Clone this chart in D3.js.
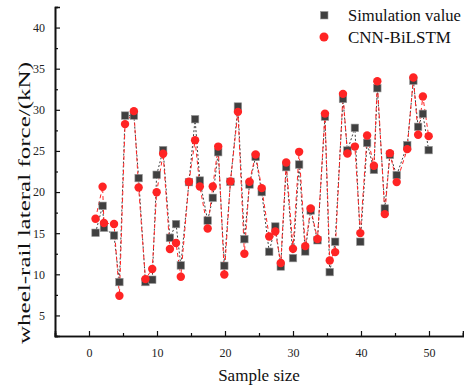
<!DOCTYPE html>
<html>
<head>
<meta charset="utf-8">
<script src="https://cdn.jsdelivr.net/npm/d3@7/dist/d3.min.js"></script>
<style>
html,body{margin:0;padding:0;background:#fff;}
svg{display:block;}
svg text{font-family:"Liberation Serif","Times New Roman",serif !important;fill:#111;}
</style>
</head>
<body>
<svg id="chart" width="464" height="390"></svg>
<script>
// Sample positions (x)
const samples = [0.96,2.0,2.2,3.68,4.47,5.3,6.6,7.3,8.3,9.3,9.95,10.9,11.9,12.8,13.5,14.7,15.6,16.3,17.45,18.2,19.0,19.9,20.8,21.9,22.85,23.6,24.5,25.4,26.5,27.4,28.2,29.0,30.0,30.9,31.8,32.6,33.6,34.7,35.4,36.2,37.35,38.0,39.1,39.9,40.9,41.9,42.4,43.5,44.25,45.25,46.8,47.7,48.4,49.1,49.95];
const simulation = [15.05,18.33,15.66,14.72,9.06,29.30,29.30,21.70,9.06,9.34,22.10,25.10,14.44,16.11,11.08,21.21,28.86,21.40,16.54,19.30,24.85,11.04,21.25,30.40,14.28,20.92,24.28,20.0,12.74,15.81,10.95,23.03,11.97,23.35,12.78,17.76,14.14,29.18,10.27,13.96,31.33,25.05,27.81,13.96,25.98,22.70,32.63,18.0,24.53,22.06,25.70,33.55,27.93,29.51,25.10];
const cnnBiLSTM = [16.75,20.64,16.23,16.11,7.39,28.26,29.84,20.55,9.42,10.64,19.97,24.65,13.07,13.80,9.70,21.25,26.31,20.67,15.57,20.67,25.53,9.98,21.30,29.75,12.50,21.25,24.56,20.48,14.60,15.21,11.37,23.59,13.10,24.89,13.43,18.0,14.30,29.54,11.68,12.70,31.94,24.68,25.53,15.01,26.87,23.19,33.48,17.32,24.73,21.21,25.22,33.92,26.96,31.61,26.80];
const xTicks = [0,10,20,30,40,50];
const yTicks = [5,10,15,20,25,30,35,40];
const seriesNames = ["Simulation value","CNN-BiLSTM"];
const xTitle = "Sample size";
const yTitle = "wheel-rail lateral force/(kN)";

const svg = d3.select("#chart");
const x = d3.scaleLinear().domain([-5,55]).range([55,463]);
const y = d3.scaleLinear().domain([2.5,42.5]).range([336,7]);

const simColor = "#404040", predColor = "#ff2424";
const serif = "'Liberation Serif', 'Times New Roman', serif";

// axes
const xAxis = d3.axisBottom(x).tickValues(xTicks).tickSize(-5).tickPadding(12).tickFormat(d3.format("d"));
const xMinor = d3.axisBottom(x).tickValues([-5,5,15,25,35,45,55]).tickSize(-3).tickFormat("");
const yAxis = d3.axisLeft(y).tickValues(yTicks).tickSize(-5).tickPadding(10).tickFormat(d3.format("d"));
const yMinor = d3.axisLeft(y).tickValues([2.5,7.5,12.5,17.5,22.5,27.5,32.5,37.5,42.5]).tickSize(-3).tickFormat("");

function styleAxis(g){
  g.attr("font-family", serif);
  g.select(".domain").attr("stroke","#111").attr("stroke-width",1.6);
  g.selectAll(".tick line").attr("stroke","#111").attr("stroke-width",1.2);
  g.selectAll(".tick text").attr("font-size",12).style("font-family",serif).style("fill","#222");
}
svg.append("g").attr("transform","translate(0,336)").call(xMinor).call(styleAxis);
svg.append("g").attr("transform","translate(0,336)").call(xAxis).call(styleAxis);
svg.append("g").attr("transform","translate(55,0)").call(yMinor).call(styleAxis);
svg.append("g").attr("transform","translate(55,0)").call(yAxis).call(styleAxis);

// lines
const simData = samples.map((s,i)=>({x:s,y:simulation[i]}));
const predData = samples.map((s,i)=>({x:s,y:cnnBiLSTM[i]}));
const line = d3.line().x(d=>x(d.x)).y(d=>y(d.y));
svg.append("path").datum(simData).attr("d",line).attr("fill","none")
  .attr("stroke",simColor).attr("stroke-width",1).attr("stroke-dasharray","2,2");
svg.append("path").datum(predData).attr("d",line).attr("fill","none")
  .attr("stroke",predColor).attr("stroke-width",1).attr("stroke-dasharray","4,3");

// markers
const sq = 7.5;
svg.append("g").selectAll("rect").data(simData).join("rect")
  .attr("x",d=>x(d.x)-sq/2).attr("y",d=>y(d.y)-sq/2).attr("width",sq).attr("height",sq)
  .attr("fill",simColor).attr("stroke","#9a9a9a").attr("stroke-width",0.6);
svg.append("g").selectAll("circle").data(predData).join("circle")
  .attr("cx",d=>x(d.x)).attr("cy",d=>y(d.y)).attr("r",4.2)
  .attr("fill",predColor);

// legend
const lg = svg.append("g");
lg.append("rect").attr("x",320.5).attr("y",11.5).attr("width",7.5).attr("height",7.5)
  .attr("fill",simColor).attr("stroke","#9a9a9a").attr("stroke-width",0.6);
lg.append("circle").attr("cx",324).attr("cy",37).attr("r",4.5).attr("fill",predColor);
lg.append("text").attr("x",348).attr("y",21).attr("font-size",16.6).style("font-family",serif).text(seriesNames[0]);
lg.append("text").attr("x",348).attr("y",43).attr("font-size",17).style("font-family",serif).text(seriesNames[1]);

// titles
svg.append("text").attr("x",259).attr("y",381).attr("text-anchor","middle")
  .attr("font-size",17).style("font-family",serif).text(xTitle);
svg.append("text").attr("transform","translate(30,203) rotate(-90)")
  .attr("text-anchor","middle").attr("font-size",16).style("font-family",serif)
  .attr("textLength",282).attr("lengthAdjust","spacingAndGlyphs").text(yTitle);
</script>
</body>
</html>
